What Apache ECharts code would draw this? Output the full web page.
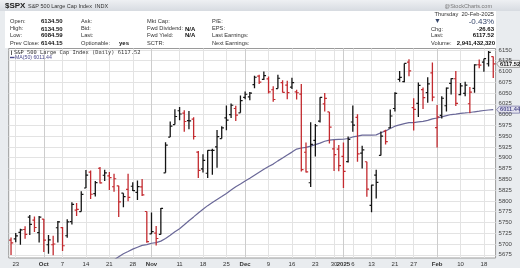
<!DOCTYPE html>
<html><head><meta charset="utf-8">
<script src="https://cdn.jsdelivr.net/npm/echarts@6/dist/echarts.min.js"></script>
<style>html,body{margin:0;padding:0;background:#e6e9ed;}#c{width:520px;height:268px;}</style>
</head><body><div id="c"></div>
<script>
const dates = ['2024-09-20','2024-09-23','2024-09-24','2024-09-25','2024-09-26','2024-09-27','2024-09-30',
'2024-10-01','2024-10-02','2024-10-03','2024-10-04','2024-10-07','2024-10-08','2024-10-09','2024-10-10','2024-10-11',
'2024-10-14','2024-10-15','2024-10-16','2024-10-17','2024-10-18','2024-10-21','2024-10-22','2024-10-23','2024-10-24','2024-10-25',
'2024-10-28','2024-10-29','2024-10-30','2024-10-31','2024-11-01','2024-11-04','2024-11-05','2024-11-06','2024-11-07','2024-11-08',
'2024-11-11','2024-11-12','2024-11-13','2024-11-14','2024-11-15','2024-11-18','2024-11-19','2024-11-20','2024-11-21','2024-11-22',
'2024-11-25','2024-11-26','2024-11-27','2024-11-29','2024-12-02','2024-12-03','2024-12-04','2024-12-05','2024-12-06',
'2024-12-09','2024-12-10','2024-12-11','2024-12-12','2024-12-13','2024-12-16','2024-12-17','2024-12-18','2024-12-19','2024-12-20',
'2024-12-23','2024-12-24','2024-12-26','2024-12-27','2024-12-30','2024-12-31','2025-01-02','2025-01-03','2025-01-06','2025-01-07',
'2025-01-08','2025-01-10','2025-01-13','2025-01-14','2025-01-15','2025-01-16','2025-01-17','2025-01-21','2025-01-22','2025-01-23',
'2025-01-24','2025-01-27','2025-01-28','2025-01-29','2025-01-30','2025-01-31','2025-02-03','2025-02-04','2025-02-05','2025-02-06',
'2025-02-07','2025-02-10','2025-02-11','2025-02-12','2025-02-13','2025-02-14','2025-02-18','2025-02-19','2025-02-20'];

const opens = [5709.0,5711.9,5727.0,5733.6,5762.2,5755.4,5726.5,5757.7,5698.2,5698.2,5737.6,5737.8,5719.1,5751.8,5778.4,5775.1,
5829.8,5866.7,5816.6,5875.6,5859.4,5857.8,5832.7,5834.5,5817.8,5826.8,5833.9,5819.7,5832.4,5775.3,5723.2,5725.2,5722.4,5864.9,5947.9,5976.8,
6008.9,6003.6,5985.8,5989.6,5912.8,5874.2,5864.0,5917.1,5924.9,5944.4,5992.3,6000.0,6014.1,6004.0,6040.1,6041.0,6069.4,6089.0,6081.4,
6083.0,6057.6,6060.2,6074.3,6068.2,6063.8,6052.6,6047.6,5912.7,5842.0,5940.3,5984.6,6025.0,6006.2,5920.7,5919.7,5903.3,5891.1,5982.8,5993.3,
5910.7,5890.7,5789.6,5859.7,5905.2,5961.6,5969.0,6014.1,6081.4,6076.3,6121.4,6016.0,6026.0,6057.7,6050.8,6096.8,5969.7,5998.1,6020.5,6072.2,
6083.1,6046.4,6049.3,6025.1,6060.6,6115.5,6121.6,6117.8,6134.5];
const highs = [5715.1,5725.4,5735.3,5741.0,5767.4,5764.0,5765.1,5757.7,5720.6,5718.8,5753.3,5739.3,5757.6,5796.8,5795.0,5822.1,
5871.4,5870.4,5846.3,5878.5,5872.2,5866.9,5863.0,5834.9,5817.8,5862.8,5842.9,5847.2,5850.9,5775.3,5772.7,5741.4,5783.4,5936.1,5983.8,6012.5,
6017.3,6009.9,6008.2,5993.9,5915.5,5908.1,5917.1,5920.7,5964.4,5972.9,6020.8,6025.4,6020.2,6044.2,6053.6,6052.4,6089.8,6092.5,6100.0,
6088.5,6065.4,6092.6,6079.7,6078.6,6085.2,6057.7,6070.7,5935.5,5982.1,5978.3,6040.1,6049.8,6006.2,5940.8,5929.7,5935.1,5949.3,6021.0,6000.7,
5927.9,5890.7,5837.3,5871.9,5960.6,5964.7,6012.0,6051.5,6100.8,6118.7,6128.2,6037.9,6074.5,6062.8,6086.6,6120.9,6022.1,6042.5,6062.9,6084.0,
6101.3,6073.4,6076.3,6063.9,6116.9,6127.5,6129.6,6147.4,6134.5];
const lows = [5674.5,5704.2,5698.0,5712.1,5721.0,5727.8,5703.5,5681.3,5677.3,5674.0,5703.5,5683.7,5714.6,5745.0,5764.8,5775.1,
5829.8,5804.5,5809.9,5840.3,5846.1,5824.9,5821.2,5762.4,5784.9,5799.0,5823.1,5802.0,5811.3,5702.9,5723.2,5696.5,5722.1,5864.9,5947.9,5976.8,
5986.7,5960.1,5965.9,5942.3,5853.0,5865.9,5853.0,5860.6,5876.8,5944.4,5963.9,5992.3,5984.9,6004.0,6035.3,6033.4,6061.1,6071.1,6080.0,
6048.6,6029.9,6060.2,6051.2,6035.8,6059.1,6035.2,5867.8,5865.9,5832.3,5902.6,5981.4,6007.4,5933.0,5869.2,5868.9,5829.5,5888.7,5960.0,5890.7,
5874.8,5809.3,5773.3,5805.2,5905.2,5930.6,5969.0,6006.9,6076.1,6074.7,6088.7,5962.9,5994.6,6013.0,6027.5,6030.9,5923.9,5990.9,6007.1,6046.8,
6020.0,6044.8,6042.3,6003.0,6050.9,6107.6,6099.5,6111.2,6084.6];
const closes = [5702.55,5718.57,5732.93,5722.26,5745.37,5738.17,5762.48,5708.75,5709.54,5699.94,5751.07,5695.94,5751.13,5792.04,5780.05,5815.03,
5859.85,5815.26,5842.47,5841.47,5864.67,5853.98,5851.20,5797.42,5809.86,5808.12,5823.52,5832.92,5813.67,5705.45,5728.80,5712.69,5782.76,5929.04,5973.10,5995.54,
6001.35,5983.99,5985.38,5949.17,5870.62,5893.62,5916.98,5917.11,5948.71,5969.34,5987.37,6021.63,5998.74,6032.38,6047.15,6049.88,6086.49,6075.11,6090.27,
6052.85,6034.91,6084.19,6051.25,6051.09,6074.08,6050.61,5872.16,5867.08,5930.85,5974.07,6040.04,6037.59,5970.84,5906.94,5881.63,5868.55,5942.47,5975.38,5909.03,
5918.25,5827.04,5836.22,5842.91,5949.91,5937.34,5996.66,6049.24,6086.37,6118.71,6101.24,6012.28,6067.70,6039.31,6071.17,6040.53,5994.57,6037.88,6061.48,6083.57,
6025.99,6066.44,6068.50,6051.97,6115.07,6114.63,6129.58,6144.15,6117.52];
const prevCloseBeforeFirst = 5713.64;
const ma50 = [5518.11,5520.17,5522.21,5523.31,5526.45,5530.32,5535.47,5538.36,5541.43,5546.89,5553.93,5558.66,5564.42,5571.53,5576.68,5584.05,
5594.32,5606.89,5618.94,5631.78,5642.69,5652.88,5663.02,5670.28,5677.37,5682.67,5688.06,5692.55,5696.88,5698.57,5701.74,5703.30,5706.62,5712.68,5720.30,5728.37,
5735.43,5744.53,5753.84,5762.75,5772.00,5780.45,5788.88,5796.14,5803.20,5810.06,5817.15,5824.89,5832.50,5838.87,5845.77,5852.39,5859.46,5866.52,5873.42,
5879.71,5885.16,5892.67,5899.50,5906.53,5912.99,5920.08,5922.50,5924.01,5927.02,5930.20,5933.81,5938.25,5940.82,5942.13,5942.47,5942.76,5944.58,5948.14,5950.13,
5952.33,5952.40,5952.47,5953.05,5957.94,5962.11,5967.79,5973.12,5976.27,5979.18,5981.30,5981.51,5983.19,5984.27,5986.71,5990.10,5992.12,5994.54,5997.43,6000.12,
6001.26,6002.84,6003.77,6004.84,6006.49,6007.84,6009.44,6010.59,6011.44];

const yTicks = [5675,5700,5725,5750,5775,5800,5825,5850,5875,5900,5925,5950,5975,6000,6025,6050,6075,6100,6125,6150];
const xTickDates = ['2024-09-23','2024-10-01','2024-10-07','2024-10-14','2024-10-21','2024-10-28','2024-11-01','2024-11-11','2024-11-18','2024-11-25',
'2024-12-02','2024-12-09','2024-12-16','2024-12-23','2024-12-30','2025-01-02','2025-01-06','2025-01-13','2025-01-21','2025-01-27','2025-02-03','2025-02-10','2025-02-18'];
const xTickText = ['23','Oct','7','14','21','28','Nov','11','18','25','Dec','9','16','23','30','2025','6','13','21','27','Feb','10','18'];
const monthStartDates = ['2024-10-01','2024-11-01','2024-12-02','2025-01-02','2025-02-03'];

const lastClose = 6117.52, lastMA = 6011.44;

const xTickIdx = xTickDates.map(d => dates.indexOf(d));
const monthIdx = monthStartDates.map(d => dates.indexOf(d));
const labelMap = {};
xTickIdx.forEach((i, k) => labelMap[i] = xTickText[k]);
const boldSet = new Set(['Oct','Nov','Dec','2025','Feb']);

const ohlc = dates.map((d, i) => {
  const prev = i === 0 ? prevCloseBeforeFirst : closes[i - 1];
  return [i, opens[i], highs[i], lows[i], closes[i], closes[i] < prev ? 1 : 0];
});
const maData = ma50.map((v, i) => [i, v]);

const chart = echarts.init(document.getElementById('c'), null, {renderer: 'canvas'});
const SANS = 'Liberation Sans, Arial, sans-serif';
const RED = '#c32a2f', BLK = '#141414';

const hdrRows = [21.7, 28.9, 35.6, 43];
const hdr = [];
function t(x, y, text, opt) {
  hdr.push(Object.assign({type: 'text', x: x, y: y, silent: true,
    style: Object.assign({text: text, font: '5.7px ' + SANS, fill: '#333', textVerticalAlign: 'middle'}, opt || {})}));
}
hdr.push({type: 'rect', shape: {x: 0, y: 0, width: 520, height: 11},
  style: {fill: new echarts.graphic.LinearGradient(0, 0, 0, 1, [{offset: 0, color: '#eef0f3'}, {offset: 1, color: '#d7dbe1'}])}, silent: true, z: -10});
hdr.push({type: 'rect', shape: {x: 5, y: 11, width: 491, height: 37}, style: {fill: '#ffffff'}, silent: true, z: -10});
t(5, 6, '$SPX', {font: 'bold 8px ' + SANS, fill: '#222'});
t(28, 6, 'S&P 500 Large Cap Index  INDX', {font: '5.5px ' + SANS, fill: '#333'});
t(492, 6, '@StockCharts.com', {font: '5.5px ' + SANS, fill: '#777', textAlign: 'right'});
const col1 = [['Open:', '6134.50'], ['High:', '6134.50'], ['Low:', '6084.59'], ['Prev Close:', '6144.15']];
const col2 = [['Ask:', ''], ['Bid:', ''], ['Last:', ''], ['Optionable:', 'yes']];
const col3 = [['Mkt Cap:', ''], ['Fwd Dividend:', 'N/A'], ['Fwd Yield:', 'N/A'], ['SCTR:', '']];
const col4 = [['P/E:', ''], ['EPS:', ''], ['Last Earnings:', ''], ['Next Earnings:', '']];
[[col1, 10, 41], [col2, 81, 119], [col3, 147, 185], [col4, 212, 0]].forEach(([col, lx, vx]) => {
  col.forEach(([l, v], r) => {
    t(lx, hdrRows[r], l);
    if (v) t(vx, hdrRows[r], v, {font: 'bold 6px ' + SANS, fill: '#111'});
  });
});
t(494, 14, 'Thursday  20-Feb-2025', {textAlign: 'right'});
t(434, 21.5, '\u25BC', {font: '7px ' + SANS, fill: '#35466a'});
t(494, 21.5, '-0.43%', {textAlign: 'right', font: '8px ' + SANS, fill: '#35466a'});
t(431, 29, 'Chg:');
t(494, 29, '-26.63', {textAlign: 'right', font: 'bold 6px ' + SANS, fill: '#111'});
t(431, 35.7, 'Last:');
t(494, 35.7, '6117.52', {textAlign: 'right', font: 'bold 6px ' + SANS, fill: '#111'});
t(431, 43.3, 'Volume:');
t(495, 43.3, '2,941,432,320', {textAlign: 'right', font: 'bold 6px ' + SANS, fill: '#111'});
hdr.push({type: 'line', shape: {x1: 11.5, y1: 50.5, x2: 11.5, y2: 55}, style: {stroke: '#333', lineWidth: 0.8}, silent: true, z: 50});
t(14, 52.5, 'S&P 500 Large Cap Index (Daily) 6117.52', {font: '5.4px DejaVu Sans Mono, monospace', fill: '#333', z: 50});
hdr.push({type: 'line', shape: {x1: 10, y1: 57.5, x2: 14.5, y2: 57.5}, style: {stroke: '#4b4a8c', lineWidth: 1.4}, silent: true, z: 50});
t(15, 57.7, 'MA(50) 6011.44', {font: '5.2px ' + SANS, fill: '#4b4a8c'});
hdr.forEach(g => { if (g.z === undefined) g.z = 50; });

const option = {
  animation: false,
  backgroundColor: '#e9ecef',
  grid: {left: 8.7, right: 24.4, top: 48.5, bottom: 10, show: true, backgroundColor: '#ffffff', borderColor: '#9a9a9a', borderWidth: 1},
  xAxis: [{
    type: 'value', min: -0.5, max: 103.5, position: 'bottom',
    axisLine: {show: false},
    axisTick: {show: false, customValues: xTickIdx},
    axisLabel: {customValues: xTickIdx, margin: 3.5, fontSize: 6, fontFamily: SANS, color: '#333',
      formatter: v => { const s = labelMap[Math.round(v)] || ''; return boldSet.has(s) ? '{b|' + s + '}' : s; },
      rich: {b: {fontWeight: 'bold', fontSize: 6, fontFamily: SANS, color: '#333'}}},
    splitLine: {show: true, lineStyle: {color: '#e3e3e3', width: 1}}
  }, {
    type: 'value', min: -0.5, max: 103.5, position: 'bottom',
    axisLine: {show: false}, axisLabel: {show: false},
    axisTick: {show: false, customValues: monthIdx},
    splitLine: {show: true, lineStyle: {color: '#cdcdcd', width: 1}}
  }],
  yAxis: {
    type: 'value', min: 5667.5, max: 6153.2, position: 'right',
    axisLine: {show: false},
    axisTick: {show: false, customValues: yTicks},
    axisLabel: {customValues: yTicks, margin: 3, fontSize: 6, fontFamily: SANS, color: '#444', formatter: v => String(Math.round(v))},
    splitLine: {show: true, lineStyle: {color: '#e3e3e3', width: 1}}
  },
  series: [{
    type: 'line', data: maData, showSymbol: false, clip: true, z: 2,
    lineStyle: {color: '#6a6898', width: 1.2}
  }, {
    type: 'custom', data: ohlc, z: 3, clip: true,
    renderItem: (params, api) => {
      const i = api.value(0);
      const o = api.coord([i, api.value(1)]);
      const h = api.coord([i, api.value(2)]);
      const l = api.coord([i, api.value(3)]);
      const c = api.coord([i, api.value(4)]);
      const col = api.value(5) ? RED : BLK;
      const x = o[0];
      return {type: 'group', children: [
        {type: 'line', shape: {x1: x, y1: h[1], x2: x, y2: l[1]}, style: {stroke: col, lineWidth: 1.3}},
        {type: 'line', shape: {x1: x - 2, y1: o[1], x2: x, y2: o[1]}, style: {stroke: col, lineWidth: 1.2}},
        {type: 'line', shape: {x1: x, y1: c[1], x2: x + 2.2, y2: c[1]}, style: {stroke: col, lineWidth: 1.2}}
      ]};
    }
  }],
  graphic: hdr
};
chart.setOption(option);

function flag(value, text, fill, stroke, color) {
  const p = chart.convertToPixel({xAxisIndex: 0, yAxisIndex: 0}, [103.5, value]);
  const x = p[0] + 1, y = p[1];
  return {type: 'group', silent: true, z: 60, children: [
    {type: 'polygon', shape: {points: [[x, y], [x + 3, y - 3.5], [x + 23, y - 3.5], [x + 23, y + 3.5], [x + 3, y + 3.5]]},
      style: {fill: fill, stroke: stroke, lineWidth: 0.8}},
    {type: 'text', x: x + 3.5, y: y + 0.3, style: {text: text, font: 'bold 5.6px ' + SANS, fill: color, textVerticalAlign: 'middle'}}
  ]};
}
chart.setOption({graphic: hdr.concat([
  flag(lastClose, lastClose.toFixed(2), '#f4f4f4', '#888', '#111'),
  flag(lastMA, lastMA.toFixed(2), '#e4e3ef', '#7a78a6', '#4b4a8c')
])});
</script></body></html>
